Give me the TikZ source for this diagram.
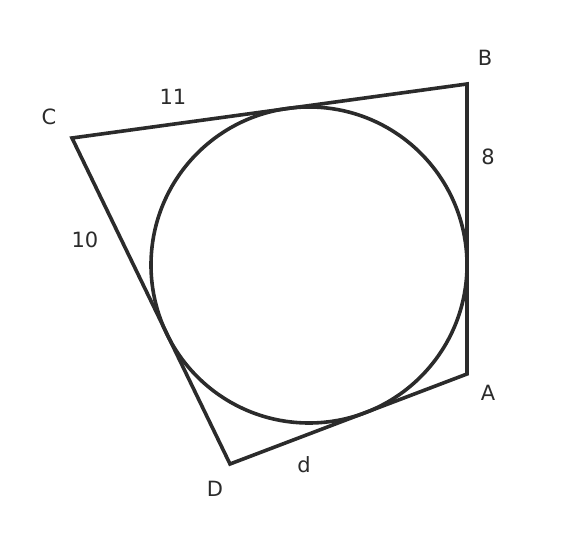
\documentclass[tikz,border=0pt]{standalone}
\usepackage{fontspec}
\setmainfont{DejaVu Sans}
\definecolor{linecol}{HTML}{2B2B2B}
\tikzset{edge/.style={draw=linecol, line width=3.6pt, line join=miter},
  lbl/.style={text=linecol, font=\fontsize{21}{25}\selectfont, inner sep=0pt}}
\begin{document}
\begin{tikzpicture}[x=1pt, y=-1pt]
\useasboundingbox (0,0) rectangle (576,537);
% corners of the quadrilateral
\coordinate (A) at (467,374);
\coordinate (B) at (467,84);
\coordinate (C) at (72,138);
\coordinate (D) at (230,464);
\coordinate (O) at (309,265);
\draw[edge] (A) -- (B) -- (C) -- (D) -- cycle;
\draw[edge] (O) circle (158);
% vertex names
\node[lbl] (nA) at (488,393) {A};
\node[lbl] (nB) at (485,58) {B};
\node[lbl] (nC) at (49,117) {C};
\node[lbl] (nD) at (215,489) {D};
% side lengths
\node[lbl] (sBC) at (173,97) {11};
\node[lbl] (sAB) at (488,157) {8};
\node[lbl] (sCD) at (85,240) {10};
\node[lbl] (sDA) at (304,465) {d};
\end{tikzpicture}
\end{document}
